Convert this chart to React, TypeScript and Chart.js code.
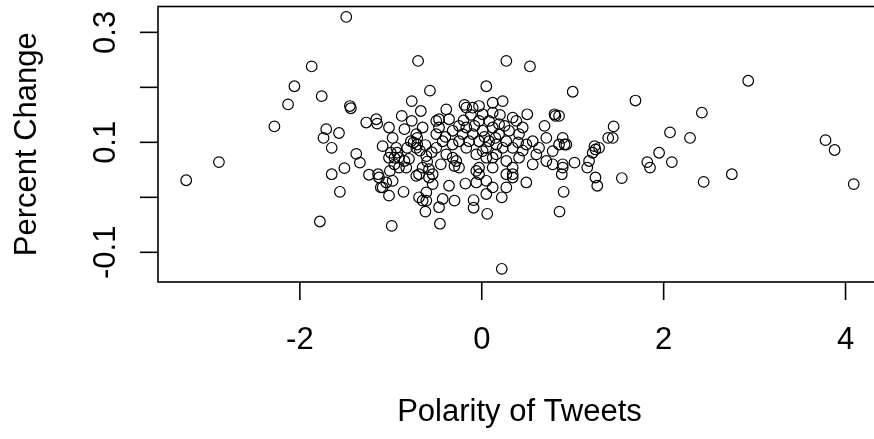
import { useEffect, useRef } from "react";
import { Chart, registerables } from "chart.js";

Chart.register(...registerables);

// Polarity of Tweets (x) and Percent Change (y)
const polarity = [
  -3.25, -2.89, -2.28, -2.13, -2.06, -1.87, -1.76, -1.49, -1.45, -1.44, -1.78, -1.71, -1.74, -1.57, -1.65, -1.38, -1.34, -1.65, -1.51, -1.56,
  -1.27, -1.16, -1.15, -0.99, -0.70, -0.57, -0.46, 0.22, 0.06, -0.09, -0.09, 0.855, 0.90, 0.88, 1.02, 0.27, 0.53, 0.05, 1.00,
  -1.24, -1.13, -1.11, -1.02, -1.05, -0.98, -1.01, -0.86, -0.69, -0.61, -0.62, -0.54, -0.54, -0.58, -0.47, -0.43, -0.36, -0.30, -0.18, -0.06,
  -0.03, 0.05, 0.05, 0.12, 0.22, 0.27, 0.34, 0.49, -1.14, -1.09,
  -0.77, -0.67, -0.88, -0.77, -0.39, -0.50, -0.47, -0.36, -0.19, -0.17, -0.10, -0.03, 0.12, 0.23, 0.01, 0.12, 0.34, 0.50, 0.38, 0.80, 0.81, 0.69, 0.45,
  -1.02, -0.85, -1.09, -0.96, -0.91, -0.85, -0.82, -0.72, -0.71, -0.98, -0.65, -0.71, -0.94,
  -0.61, -0.50, -0.43, -0.32, -0.25, -0.39, -0.28, -0.50, -0.47, -0.32,
  -0.17, -0.10, -0.03, 0.05, 0.12, 0.19, 0.27, 0.34, -0.06, 0.05, 0.16, 0.27, 0.34, -0.17, 0.01, 0.19, 0.30, 0.41, 0.49, 0.56, 0.63, 0.71, 0.78, 0.85,
  0.93, 0.60, 0.71, 0.78, 0.89, 0.56, 0.41, 0.34, 0.27, 0.12, -0.03, -0.25, -0.32, -0.06, 0.08, 0.16, -0.14, -0.03, 0.08, 0.23, 0.01, 0.12, -0.21,
  -1.02, -0.96, -0.91, -0.83, -0.93, -1.00, -0.65, -0.69, -0.58, -0.72, -0.78, -0.72, -0.61, -0.65, -0.30,
  -0.75, -0.68, -0.62, -0.55, -0.40, -0.20, -0.12, 0.20, 0.25, 0.40, 0.45, -0.08, 0.03, 0.15, -0.25, -0.60, -0.45, -0.80,
  1.69, 2.93, 2.42, 1.45, 1.39, 1.44, 2.07, 2.29, 1.95, 1.82, 1.85, 2.09, 1.54, 2.44, 2.75, 3.78, 3.88, 4.09,
  1.24, 1.25, 1.22, 1.29, 1.18, 1.16, 1.25, 1.27, 0.89, 0.91, 0.89, 0.85,
];

const percentChange = [
  0.031, 0.064, 0.129, 0.169, 0.202, 0.238, 0.184, 0.328, 0.166, 0.162, -0.044, 0.124, 0.108, 0.117, 0.090, 0.079, 0.063, 0.042, 0.053, 0.010,
  0.136, 0.142, 0.134, -0.052, 0.248, 0.194, -0.048, -0.130, -0.030, -0.019, -0.005, -0.026, 0.010, 0.042, 0.063, 0.248, 0.238, 0.202, 0.192,
  0.041, 0.036, 0.018, 0.003, 0.027, 0.030, 0.048, 0.010, 0.000, -0.006, -0.026, 0.024, 0.042, 0.036, -0.018, -0.003, 0.021, -0.006, 0.025, 0.027,
  0.042, 0.030, 0.006, 0.018, 0.000, 0.018, 0.036, 0.027, 0.042, 0.018,
  0.175, 0.157, 0.148, 0.139, 0.160, 0.139, 0.142, 0.142, 0.168, 0.163, 0.163, 0.166, 0.172, 0.175, 0.151, 0.154, 0.145, 0.151, 0.139, 0.151, 0.148, 0.130, 0.127,
  0.127, 0.124, 0.093, 0.072, 0.072, 0.066, 0.090, 0.090, 0.096, 0.108, 0.127, 0.108, 0.090,
  0.075, 0.090, 0.102, 0.096, 0.102, 0.078, 0.066, 0.115, 0.127, 0.121,
  0.127, 0.115, 0.102, 0.090, 0.127, 0.115, 0.102, 0.090, 0.078, 0.072, 0.078, 0.066, 0.054, 0.090, 0.121, 0.133, 0.121, 0.115, 0.096, 0.102, 0.090, 0.108, 0.084, 0.096,
  0.096, 0.078, 0.066, 0.060, 0.054, 0.060, 0.072, 0.042, 0.042, 0.054, 0.054, 0.054, 0.072, 0.048, 0.102, 0.096, 0.102, 0.139, 0.139, 0.090, 0.084, 0.072, 0.115,
  0.072, 0.060, 0.054, 0.054, 0.081, 0.081, 0.054, 0.042, 0.051, 0.115, 0.102, 0.039, 0.009, -0.006, 0.057,
  0.100, 0.085, 0.095, 0.082, 0.110, 0.140, 0.150, 0.150, 0.130, 0.100, 0.085, 0.130, 0.110, 0.108, 0.130, 0.065, 0.060, 0.070,
  0.176, 0.212, 0.154, 0.129, 0.108, 0.108, 0.118, 0.108, 0.081, 0.064, 0.054, 0.064, 0.035, 0.028, 0.042, 0.104, 0.086, 0.024,
  0.093, 0.087, 0.081, 0.090, 0.066, 0.054, 0.036, 0.021, 0.108, 0.096, 0.060, 0.148,
];

const xTicks = [-2, 0, 2, 4];
const xTickLabels = ["-2", "0", "2", "4"];
const yTicks = [-0.1, 0, 0.1, 0.2, 0.3];
const yTickLabels = ["-0.1", "", "0.1", "", "0.3"];
const xTitle = "Polarity of Tweets";
const yTitle = "Percent Change";

const W = 900;
const H = 439;
const FONT = '31px "Liberation Sans", Arial, sans-serif';

const rAxesPlugin = {
  id: "rAxes",
  afterDraw(chart: any) {
    const { ctx, chartArea: a, scales } = chart;
    const xs = scales.x;
    const ys = scales.y;
    ctx.save();
    ctx.strokeStyle = "#000";
    ctx.lineWidth = 1.6;
    ctx.strokeRect(a.left, a.top, a.right - a.left, a.bottom - a.top);

    ctx.fillStyle = "#000";
    ctx.font = FONT;
    ctx.textAlign = "center";
    ctx.textBaseline = "alphabetic";

    xTicks.forEach((v, i) => {
      const px = xs.getPixelForValue(v);
      ctx.beginPath();
      ctx.moveTo(px, a.bottom);
      ctx.lineTo(px, a.bottom + 18);
      ctx.stroke();
      ctx.fillText(xTickLabels[i], px, a.bottom + 67);
    });

    yTicks.forEach((v, i) => {
      const py = ys.getPixelForValue(v);
      ctx.beginPath();
      ctx.moveTo(a.left - 18, py);
      ctx.lineTo(a.left, py);
      ctx.stroke();
      if (yTickLabels[i]) {
        ctx.save();
        ctx.translate(a.left - 43, py);
        ctx.rotate(-Math.PI / 2);
        ctx.fillText(yTickLabels[i], 0, 0);
        ctx.restore();
      }
    });

    ctx.fillText(xTitle, (a.left + a.right) / 2, a.bottom + 139);

    ctx.save();
    ctx.translate(36, (a.top + a.bottom) / 2);
    ctx.rotate(-Math.PI / 2);
    ctx.fillText(yTitle, 0, 0);
    ctx.restore();

    ctx.restore();
  },
};

export default function App() {
  const ref = useRef<HTMLCanvasElement | null>(null);

  useEffect(() => {
    if (!ref.current) return;
    const points = polarity.map((x, i) => ({ x, y: percentChange[i] }));
    const chart = new Chart(ref.current, {
      type: "scatter",
      data: {
        datasets: [
          {
            data: points,
            pointStyle: "circle",
            pointRadius: 5.3,
            pointBorderWidth: 1.2,
            pointBorderColor: "#000",
            pointBackgroundColor: "rgba(0,0,0,0)",
            showLine: false,
          },
        ],
      },
      options: {
        responsive: false,
        animation: false,
        devicePixelRatio: 1,
        events: [],
        layout: { padding: { top: 5, right: 19, left: 0, bottom: 0 } },
        plugins: { legend: { display: false }, tooltip: { enabled: false } },
        scales: {
          x: {
            type: "linear",
            min: -3.56,
            max: 4.39,
            grid: { display: false },
            border: { display: false },
            ticks: { display: false, includeBounds: false },
            afterFit: (s: any) => {
              s.height = 157;
            },
          },
          y: {
            type: "linear",
            min: -0.154,
            max: 0.347,
            grid: { display: false },
            border: { display: false },
            ticks: { display: false, includeBounds: false },
            afterFit: (s: any) => {
              s.width = 158;
            },
          },
        },
      },
      plugins: [rAxesPlugin],
    });
    return () => chart.destroy();
  }, []);

  return (
    <div
      style={{
        position: "absolute",
        left: 0,
        top: 0,
        width: 874,
        height: 439,
        overflow: "hidden",
        background: "#fff",
      }}
    >
      <canvas
        ref={ref}
        width={W}
        height={H}
        style={{ display: "block", width: W, height: H }}
      />
    </div>
  );
}
